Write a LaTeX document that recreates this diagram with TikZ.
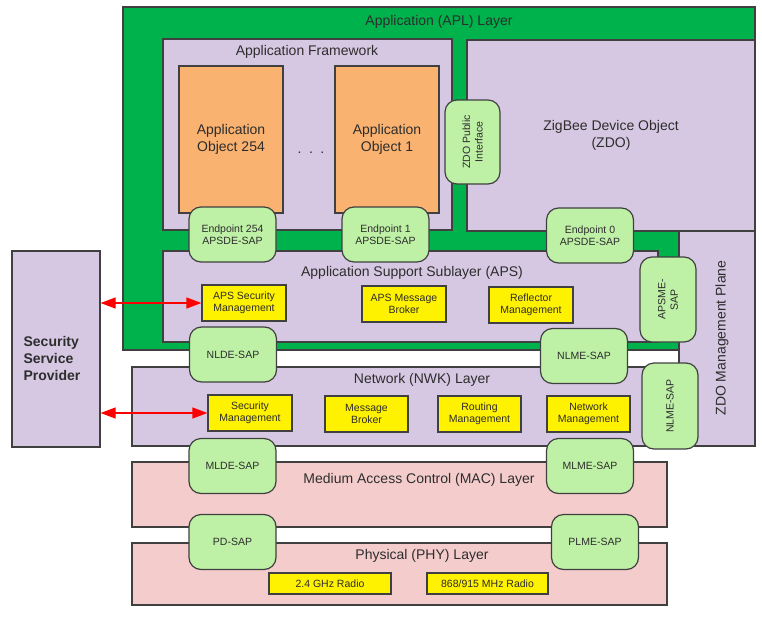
\documentclass[tikz,border=0pt]{standalone}
\usepackage{fontspec}
\setmainfont{Liberation Sans}
\usetikzlibrary{arrows.meta}
\definecolor{aplgreen}{RGB}{0,178,76}
\definecolor{lavender}{RGB}{214,200,226}
\definecolor{objorange}{RGB}{250,178,112}
\definecolor{sapgreen}{RGB}{190,240,166}
\definecolor{layerpink}{RGB}{244,204,204}
\definecolor{linegray}{RGB}{64,64,64}
\definecolor{textgray}{RGB}{45,45,45}
\begin{document}
\begin{tikzpicture}
		[x=1pt,y=-1pt,
		layer/.style={draw=linegray,line width=1.2pt,inner sep=0pt,text=textgray},
		title/.style={inner sep=0pt,text=textgray,align=center,
			font=\fontsize{14}{17}\selectfont},
		sap/.style={layer,fill=sapgreen,rounded corners=12pt,align=center,
			minimum width=87pt,minimum height=55pt,
			font=\fontsize{10.5}{12.5}\selectfont},
		func/.style={layer,fill=yellow,align=center,
			minimum width=84pt,minimum height=36pt,
			font=\fontsize{10.5}{12.5}\selectfont},
		secarrow/.style={draw=red,line width=1.2pt,
			{Triangle[length=15pt,width=11pt]}-{Triangle[length=15pt,width=11pt]}}]
		\useasboundingbox (0,0) rectangle (762,618);
		% application layer
		\node[layer,fill=aplgreen,minimum width=632pt,minimum height=343pt] (apl) at (439,178.5) {};
		\node[title] (apltitle) at (439,22) {Application (APL) Layer};
		\node[layer,fill=lavender,minimum width=289pt,minimum height=191pt] (frame) at (307.5,134.5) {};
		\node[title] (frametitle) at (307,52) {Application Framework};
		\node[layer,fill=objorange,minimum width=104pt,minimum height=147pt,title] (obj254) at (231,139.5) {Application\\Object 254};
		\node[layer,fill=objorange,minimum width=104pt,minimum height=147pt,title] (obj1) at (387,139.5) {Application\\Object 1};
		\node[title,anchor=base] (dots) at (311,153) {.\hspace{7.5pt}.\hspace{7.5pt}.};
		\node[layer,fill=lavender,minimum width=288pt,minimum height=191pt,title] (zdo) at (611,135.5) {ZigBee Device Object\\(ZDO)};
		\node[layer,fill=lavender,minimum width=495pt,minimum height=91pt] (aps) at (410.5,296.5) {};
		\node[title] (apstitle) at (412,273) {Application Support Sublayer (APS)};
		% management plane and lower layers
		\node[layer,fill=lavender,minimum width=547pt,minimum height=79pt] (nwk) at (405.5,406.5) {};
		\node[title] (nwktitle) at (422,380) {Network (NWK) Layer};
		\node[layer,fill=lavender,minimum width=76pt,minimum height=215pt] (plane) at (717,338.5) {};
		\node[title,rotate=90] (planetitle) at (722,338) {ZDO Management Plane};
		\node[layer,fill=layerpink,minimum width=535pt,minimum height=65pt] (mac) at (399.5,494.5) {};
		\node[title] (mactitle) at (419,480) {Medium Access Control (MAC) Layer};
		\node[layer,fill=layerpink,minimum width=535pt,minimum height=62pt] (phy) at (399.5,574) {};
		\node[title] (phytitle) at (422,556) {Physical (PHY) Layer};
		\node[layer,fill=lavender,minimum width=88pt,minimum height=196pt] (ssp) at (56,349) {};
		\node[title,align=left,font=\bfseries\fontsize{14}{17}\selectfont] (ssptext) at (52,358) {Security\\Service\\Provider};
		% functions
		\node[func] (apssec) at (244,303) {APS Security\\Management};
		\node[func] (apsmsg) at (404,304) {APS Message\\Broker};
		\node[func] (reflect) at (531,305) {Reflector\\Management};
		\node[func] (nwksec) at (250,413) {Security\\Management};
		\node[func,minimum width=83pt] (nwkmsg) at (366.5,414) {Message\\Broker};
		\node[func,minimum width=83pt] (routing) at (479.5,414) {Routing\\Management};
		\node[func,minimum width=83pt] (nwkmgmt) at (588.5,414) {Network\\Management};
		\node[func,minimum width=122pt,minimum height=21pt] (radio24) at (330,583.5) {2.4 GHz Radio};
		\node[func,minimum width=121pt,minimum height=21pt] (radio868) at (487.5,583.5) {868/915 MHz Radio};
		% service access points
		\node[sap,rotate=90,minimum width=84pt,minimum height=55pt] (zdopub) at (472.5,142) {ZDO Public\\Interface};
		\node[sap] (ep254) at (232.5,234.5) {Endpoint 254\\APSDE-SAP};
		\node[sap] (ep1) at (385.5,234.5) {Endpoint 1\\APSDE-SAP};
		\node[sap] (ep0) at (590,235.5) {Endpoint 0\\APSDE-SAP};
		\node[sap,rotate=90,minimum width=85pt,minimum height=56pt] (apsme) at (668,299.5) {APSME-\\SAP};
		\node[sap] (nlde) at (233,354.5) {NLDE-SAP};
		\node[sap] (nlme) at (584,356) {NLME-SAP};
		\node[sap,rotate=90,minimum width=86pt,minimum height=56pt] (nlmev) at (670,406) {NLME-SAP};
		\node[sap] (mlde) at (232.5,466) {MLDE-SAP};
		\node[sap] (mlme) at (590,466) {MLME-SAP};
		\node[sap] (pd) at (232.5,542) {PD-SAP};
		\node[sap] (plme) at (595,542) {PLME-SAP};
		% security links
		\draw[secarrow] (ssp.east |- apssec.west) -- (apssec.west);
		\draw[secarrow] (ssp.east |- nwksec.west) -- (nwksec.west);
	\end{tikzpicture}
\end{document}
